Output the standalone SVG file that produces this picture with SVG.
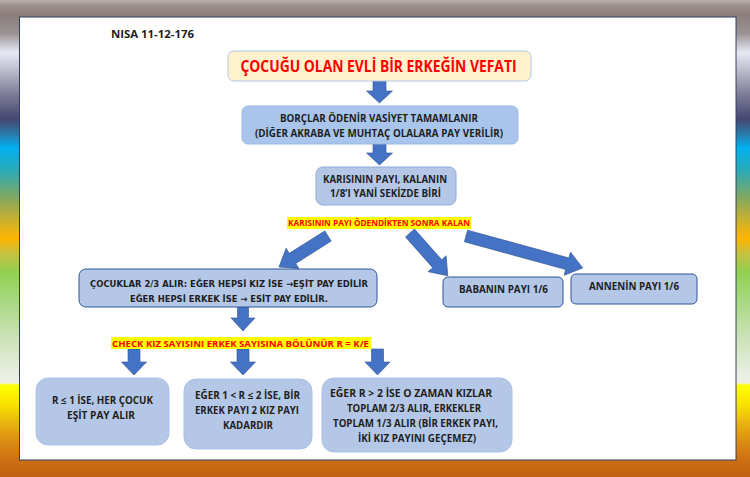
<svg xmlns="http://www.w3.org/2000/svg" width="750" height="477" viewBox="0 0 750 477">
<defs>
<linearGradient id="bg" x1="0" y1="0" x2="0" y2="1">
<stop offset="0" stop-color="#b8b0ae"/>
<stop offset="0.01" stop-color="#a09290"/>
<stop offset="0.03" stop-color="#8c7e7c"/>
<stop offset="0.07" stop-color="#9a9294"/>
<stop offset="0.11" stop-color="#e6eaf4"/>
<stop offset="0.15" stop-color="#b8bac8"/>
<stop offset="0.20" stop-color="#7a7a96"/>
<stop offset="0.25" stop-color="#454670"/>
<stop offset="0.28" stop-color="#2a78a8"/>
<stop offset="0.31" stop-color="#00b0f0"/>
<stop offset="0.36" stop-color="#2eaab4"/>
<stop offset="0.41" stop-color="#7ca864"/>
<stop offset="0.46" stop-color="#c8b030"/>
<stop offset="0.50" stop-color="#ffb400"/>
<stop offset="0.53" stop-color="#c8c040"/>
<stop offset="0.57" stop-color="#92d050"/>
<stop offset="0.63" stop-color="#a8d880"/>
<stop offset="0.71" stop-color="#cce3b8"/>
<stop offset="0.78" stop-color="#e8eee0"/>
<stop offset="0.802" stop-color="#eef0ea"/>
<stop offset="0.808" stop-color="#ffff00"/>
<stop offset="0.85" stop-color="#f8e000"/>
<stop offset="0.89" stop-color="#e8b010"/>
<stop offset="0.93" stop-color="#d88814"/>
<stop offset="0.97" stop-color="#cc6c12"/>
<stop offset="1" stop-color="#c06010"/>
</linearGradient>
</defs>
<style>
text{font-family:"Open Sans","Liberation Sans",sans-serif;font-weight:700;fill:#1e1e1e;text-anchor:middle}
.red{fill:#ff0000}
.dv{font-family:"DejaVu Sans",sans-serif}
.box{fill:#b4c7e7;stroke:#8faadc;stroke-width:1}
.dark{stroke:#2f5597}
.soft{stroke:#a9c1e8}
.arr{fill:#4472c4;stroke:#2f528f;stroke-width:0.6}
.hl{fill:#ffff00}
</style>
<rect x="0" y="0" width="750" height="477" fill="url(#bg)"/>
<rect x="19.5" y="17" width="716.5" height="443" fill="#ffffff" stroke="#2f3f5f" stroke-width="1"/>
<text x="152.5" y="38" font-size="11" textLength="83" lengthAdjust="spacingAndGlyphs">NISA 11-12-176</text>

<g id="connectors">
<path class="arr" d="M373,81 V91 H366.5 L379.5,103 L392.5,91 H386 V81 Z"/>
<path class="arr" d="M373,144 V153 H366.5 L379.5,165 L392.5,153 H386 V144 Z"/>
<path class="arr" d="M0,-6 H42 V-12 L58,0 L42,12 V6 H0 Z" transform="translate(328,236) rotate(147.7)"/>
<path class="arr" d="M0,-6 H41 V-12 L57,0 L41,12 V6 H0 Z" transform="translate(410,233) rotate(48.5)"/>
<path class="arr" d="M0,-6 H105 V-12 L121,0 L105,12 V6 H0 Z" transform="translate(466,236) rotate(15.3)"/>
<path class="arr" d="M237.5,307 V318 H231 L243,331 L255,318 H248.5 V307 Z"/>
<path class="arr" d="M128,349 V362 H121.5 L134,375 L146.5,362 H140 V349 Z"/>
<path class="arr" d="M237,349 V362 H230.5 L243,375 L255.5,362 H249 V349 Z"/>
<path class="arr" d="M371.5,349 V362 H365 L377.5,375 L390,362 H383.5 V349 Z"/>
</g>

<g id="title">
<rect x="228" y="51" width="303" height="30" rx="6" fill="#fff2cc" stroke="#b4c7e7" stroke-width="1"/>
<text class="red" x="378.5" y="72" font-size="16" textLength="276" lengthAdjust="spacingAndGlyphs">ÇOCUĞU OLAN EVLİ BİR ERKEĞİN VEFATI</text>
</g>

<g id="borclar">
<rect x="242" y="106" width="276" height="38" rx="6" fill="#a9c5eb" stroke="#9ab8e2" stroke-width="1"/>
<text x="379" y="122" font-size="10" textLength="198" lengthAdjust="spacingAndGlyphs">BORÇLAR ÖDENİR VASİYET TAMAMLANIR</text>
<text x="379" y="137" font-size="10" textLength="248" lengthAdjust="spacingAndGlyphs">(DİĞER AKRABA VE MUHTAÇ OLALARA PAY VERİLİR)</text>
</g>

<g id="karisinin">
<rect class="box" x="316" y="167" width="140" height="38" rx="7"/>
<text x="385" y="183" font-size="10.5" textLength="124" lengthAdjust="spacingAndGlyphs">KARISININ PAYI, KALANIN</text>
<text x="385.5" y="197" font-size="10.5" textLength="111" lengthAdjust="spacingAndGlyphs">1/8’I YANİ SEKİZDE BİRİ</text>
</g>

<g id="label-kalan">
<rect class="hl" x="287" y="217" width="184" height="12"/>
<text class="red" x="379" y="226" font-size="9" textLength="182" lengthAdjust="spacingAndGlyphs">KARISININ PAYI ÖDENDİKTEN SONRA KALAN</text>
</g>

<g id="cocuklar">
<rect class="box dark" x="79" y="269" width="298" height="38" rx="7"/>
<text class="dv" x="229" y="287" font-size="9.5" textLength="278" lengthAdjust="spacingAndGlyphs">ÇOCUKLAR 2/3 ALIR: EĞER HEPSİ KIZ İSE →EŞİT PAY EDİLİR</text>
<text class="dv" x="229" y="302" font-size="9.5" textLength="198" lengthAdjust="spacingAndGlyphs">EĞER HEPSİ ERKEK İSE → ESİT PAY EDİLİR.</text>
</g>

<g id="babanin">
<rect class="box dark" x="443" y="277" width="120" height="30" rx="5"/>
<text x="503.5" y="293" font-size="10" textLength="89" lengthAdjust="spacingAndGlyphs">BABANIN PAYI 1/6</text>
</g>

<g id="annenin">
<rect class="box dark" x="571" y="274" width="126" height="30" rx="5"/>
<text x="634" y="290" font-size="10" textLength="90" lengthAdjust="spacingAndGlyphs">ANNENİN PAYI 1/6</text>
</g>

<g id="label-check">
<rect class="hl" x="111" y="337" width="260" height="12"/>
<text class="red" x="240.5" y="346.5" font-size="9.5" textLength="257" lengthAdjust="spacingAndGlyphs">CHECK KIZ SAYISINI ERKEK SAYISINA BÖLÜNÜR R = K/E</text>
</g>

<g id="case1">
<rect class="box soft" x="36" y="378" width="133" height="67" rx="12"/>
<text x="102.5" y="404" font-size="10" textLength="101" lengthAdjust="spacingAndGlyphs">R ≤ 1 İSE, HER ÇOCUK</text>
<text x="101" y="419" font-size="10" textLength="68" lengthAdjust="spacingAndGlyphs">EŞİT PAY ALIR</text>
</g>

<g id="case2">
<rect class="box soft" x="184" y="379" width="128" height="70" rx="12"/>
<text x="247.5" y="399" font-size="10" textLength="105" lengthAdjust="spacingAndGlyphs">EĞER 1 &lt; R ≤ 2 İSE, BİR</text>
<text x="247" y="414" font-size="10" textLength="104" lengthAdjust="spacingAndGlyphs">ERKEK PAYI 2 KIZ PAYI</text>
<text x="248" y="429" font-size="10" textLength="50" lengthAdjust="spacingAndGlyphs">KADARDIR</text>
</g>

<g id="case3">
<rect class="box soft" x="322" y="378" width="190" height="74" rx="12"/>
<text x="411" y="397" font-size="10" textLength="162" lengthAdjust="spacingAndGlyphs">EĞER R &gt; 2 İSE O ZAMAN KIZLAR</text>
<text x="414" y="412" font-size="10" textLength="134" lengthAdjust="spacingAndGlyphs">TOPLAM 2/3 ALIR, ERKEKLER</text>
<text x="415.5" y="427" font-size="10" textLength="165" lengthAdjust="spacingAndGlyphs">TOPLAM 1/3 ALIR (BİR ERKEK PAYI,</text>
<text x="417" y="442" font-size="10" textLength="118" lengthAdjust="spacingAndGlyphs">İKİ KIZ PAYINI GEÇEMEZ)</text>
</g>
</svg>
